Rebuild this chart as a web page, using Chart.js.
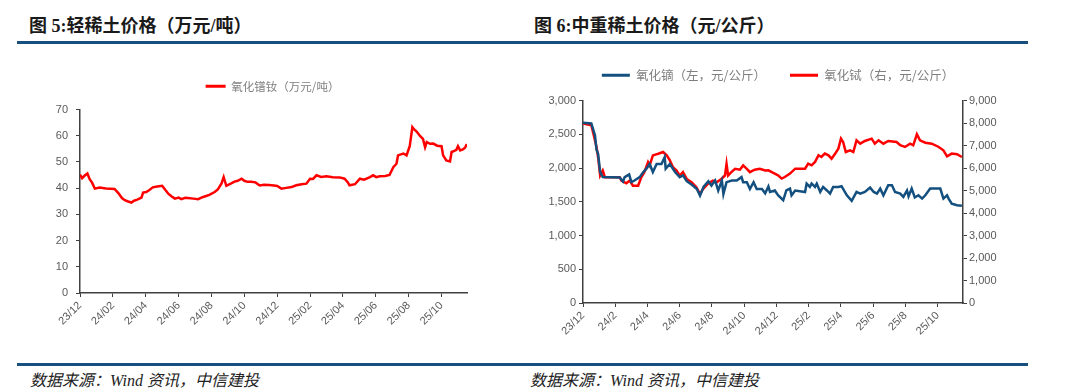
<!DOCTYPE html>
<html>
<head>
<meta charset="utf-8">
<script src="https://cdn.jsdelivr.net/npm/chart.js@4.4.1/dist/chart.umd.min.js"></script>
<style>
html,body{margin:0;padding:0;background:#fff;}
body{width:1080px;height:392px;overflow:hidden;position:relative;font-family:"Noto Sans CJK SC",sans-serif;}
.title{position:absolute;top:16px;font-weight:bold;font-size:18px;line-height:21px;color:#1a1a1a;white-space:nowrap;font-family:"Liberation Serif","Noto Sans CJK SC",serif;}
.rule{position:absolute;left:17px;width:1011px;height:3px;background:#17507e;}
.foot{position:absolute;top:371px;font-style:italic;font-size:16px;line-height:19px;color:#222;white-space:nowrap;font-family:"Liberation Serif","Noto Sans CJK SC",serif;}
.box{position:absolute;}
</style>
</head>
<body>
<div class="title" style="left:29px;">图 5:轻稀土价格（万元/吨）</div>
<div class="title" style="left:534px;">图 6:中重稀土价格（元/公斤）</div>
<div class="rule" style="top:41px;"></div>
<div class="rule" style="top:363px;"></div>
<div class="foot" style="left:30px;">数据来源：Wind 资讯，中信建投</div>
<div class="foot" style="left:530px;">数据来源：Wind 资讯，中信建投</div>

<div class="box" style="left:10px;top:55px;width:480px;height:300px;"><canvas id="c1" width="480" height="300"></canvas></div>
<div class="box" style="left:533px;top:55px;width:505px;height:300px;"><canvas id="c2" width="505" height="300"></canvas></div>

<script>
// ---------- Chart 5: light rare earth (万元/吨) ----------
const lightTickLabels = ['23/12','24/02','24/04','24/06','24/08','24/10','24/12','25/02','25/04','25/06','25/08','25/10'];
const lightDates = [
'2023-12-01','2023-12-05','2023-12-10','2023-12-15','2023-12-19','2023-12-24','2023-12-29',
'2024-01-07','2024-01-19','2024-02-04','2024-02-11','2024-02-17','2024-02-22','2024-02-28',
'2024-03-05','2024-03-10','2024-03-16','2024-03-24','2024-03-27','2024-04-02','2024-04-07',
'2024-04-14','2024-04-22','2024-05-01','2024-05-06','2024-05-13','2024-05-19','2024-05-25',
'2024-06-01','2024-06-06','2024-06-13','2024-06-18','2024-06-28','2024-07-07','2024-07-13',
'2024-07-22','2024-07-28','2024-08-07','2024-08-13','2024-08-20','2024-08-24','2024-08-29',
'2024-09-07','2024-09-13','2024-09-19','2024-09-26','2024-10-01','2024-10-07','2024-10-14',
'2024-10-22','2024-10-30','2024-11-07','2024-11-16','2024-11-25','2024-12-01','2024-12-09',
'2024-12-18','2024-12-28','2025-01-06','2025-01-16','2025-01-25','2025-02-01','2025-02-06',
'2025-02-12','2025-02-20','2025-03-01','2025-03-13','2025-03-26','2025-04-04','2025-04-10',
'2025-04-13','2025-04-23','2025-05-02','2025-05-10','2025-05-21','2025-05-27','2025-06-02',
'2025-06-08','2025-06-18','2025-06-26','2025-07-03','2025-07-09','2025-07-12','2025-07-16',
'2025-07-22','2025-07-28','2025-08-03','2025-08-08','2025-08-11','2025-08-16','2025-08-22',
'2025-08-28','2025-09-01','2025-09-04','2025-09-10','2025-09-16','2025-09-23','2025-10-01',
'2025-10-04','2025-10-10','2025-10-17','2025-10-20','2025-10-25','2025-10-29','2025-11-01',
'2025-11-05','2025-11-10','2025-11-14','2025-11-17'];
const prndValues = [
45.2,43.8,44.8,45.6,43.5,42.0,39.8,
40.2,39.9,39.7,38.0,36.2,35.4,34.9,
34.5,35.2,35.6,36.4,38.3,38.5,39.2,
40.3,40.6,40.9,39.6,37.8,36.8,36.0,
36.4,35.8,36.3,36.2,36.0,35.8,36.4,
37.0,37.4,38.5,39.5,41.8,44.2,40.9,
41.8,42.5,42.8,43.6,42.8,42.4,42.4,
42.2,41.0,41.3,41.2,41.0,40.8,39.8,
40.1,40.4,41.1,41.5,41.7,43.6,43.5,
44.9,44.3,44.5,44.2,44.1,43.6,42.2,
41.1,41.5,43.6,43.2,44.2,44.9,44.2,
44.5,44.6,45.0,48.0,49.3,52.5,52.8,
53.2,52.5,56.0,63.3,62.5,61.6,60.0,
58.8,55.6,57.6,56.9,57.0,56.2,56.0,
52.5,50.6,50.2,53.8,54.2,54.6,56.0,
54.4,54.8,55.4,56.8];

// ---------- Chart 6: medium/heavy rare earth (元/公斤) ----------
const heavyTickLabels = ['23/12','24/2','24/4','24/6','24/8','24/10','24/12','25/2','25/4','25/6','25/8','25/10'];
const dyDates = [
'2023-12-01','2023-12-17','2023-12-24','2023-12-27','2023-12-30','2024-01-03','2024-01-08',
'2024-02-09','2024-02-15','2024-02-18','2024-02-26','2024-03-01','2024-03-07','2024-03-17',
'2024-03-24','2024-03-30','2024-04-05','2024-04-11','2024-04-18','2024-04-27','2024-05-03',
'2024-05-05','2024-05-13','2024-05-23','2024-06-01','2024-06-07','2024-06-14','2024-06-23',
'2024-07-03','2024-07-09','2024-07-16','2024-07-25','2024-07-31','2024-08-07','2024-08-13',
'2024-08-20','2024-08-23','2024-08-29','2024-09-08','2024-09-17','2024-09-26','2024-09-29',
'2024-10-06','2024-10-12','2024-10-19','2024-10-25','2024-11-04','2024-11-10','2024-11-16',
'2024-11-19','2024-11-28','2024-12-04','2024-12-14','2024-12-20','2024-12-27','2024-12-30',
'2025-01-06','2025-01-25','2025-01-28','2025-02-03','2025-02-06','2025-02-12','2025-02-15',
'2025-02-21','2025-02-26','2025-03-05','2025-03-11','2025-03-17','2025-03-27','2025-04-02',
'2025-04-12','2025-04-21','2025-04-30','2025-05-07','2025-05-16','2025-05-26','2025-06-02',
'2025-06-08','2025-06-14','2025-06-20','2025-06-29','2025-07-06','2025-07-12','2025-07-22',
'2025-07-28','2025-08-04','2025-08-07','2025-08-13','2025-08-19','2025-08-26','2025-09-02',
'2025-09-08','2025-09-17','2025-10-06','2025-10-12','2025-10-19','2025-10-22','2025-10-28',
'2025-11-07','2025-11-16'];
const dyValues = [
2670,2660,2485,2270,2210,1940,1865,
1860,1800,1865,1905,1790,1815,1865,
1940,1990,2060,1940,2060,2060,2160,
1990,2060,1940,1865,1890,1805,1755,
1690,1590,1725,1805,1740,1815,1665,
1815,1615,1790,1815,1815,1865,1790,
1790,1690,1790,1690,1690,1625,1725,
1645,1667,1596,1522,1667,1695,1596,
1667,1645,1769,1720,1769,1720,1769,
1645,1720,1667,1621,1720,1720,1730,
1596,1513,1645,1621,1645,1710,1645,
1621,1695,1596,1744,1744,1645,1621,
1572,1667,1580,1695,1563,1596,1547,
1596,1695,1695,1547,1596,1547,1473,
1449,1440];
const tbDates = [
'2023-12-01','2023-12-17','2023-12-21','2023-12-27','2023-12-30','2024-01-03','2024-01-08',
'2024-01-12','2024-02-09','2024-02-12','2024-02-21','2024-02-27','2024-03-04','2024-03-14',
'2024-03-20','2024-03-26','2024-04-02','2024-04-05','2024-04-11','2024-04-21','2024-04-30',
'2024-05-07','2024-05-13','2024-05-19','2024-05-26','2024-06-01','2024-06-07','2024-06-14',
'2024-06-23','2024-07-02','2024-07-09','2024-07-15','2024-07-25','2024-08-03','2024-08-10',
'2024-08-19','2024-08-26','2024-08-29','2024-09-01','2024-09-07','2024-09-14','2024-09-23',
'2024-09-29','2024-10-06','2024-10-12','2024-10-21','2024-10-31','2024-11-10','2024-11-16',
'2024-11-25','2024-12-04','2024-12-11','2024-12-17','2024-12-27','2025-01-06','2025-01-25',
'2025-01-31','2025-02-06','2025-02-12','2025-02-18','2025-02-23','2025-03-01','2025-03-08',
'2025-03-14','2025-03-21','2025-03-27','2025-04-01','2025-04-05','2025-04-10','2025-04-18',
'2025-04-24','2025-04-30','2025-05-07','2025-05-16','2025-05-29','2025-06-04','2025-06-11',
'2025-06-20','2025-06-29','2025-07-15','2025-07-22','2025-07-31','2025-08-10','2025-08-16',
'2025-08-23','2025-08-29','2025-09-08','2025-09-20','2025-10-03','2025-10-12','2025-10-19',
'2025-10-28','2025-11-07','2025-11-16'];
const tbValues = [
7980,7900,7530,6930,6490,5665,5890,
5590,5590,5440,5320,5440,5215,5215,
5590,5815,6260,6115,6560,6635,6710,
6560,6335,6035,5890,5665,5815,5515,
5365,5140,4845,5070,5320,5440,5365,
5515,5665,6185,5665,5815,5965,5925,
6115,5965,5815,5925,5965,5890,5898,
5780,5676,5530,5600,5750,5970,5970,
6195,6120,6270,6565,6490,6640,6565,
6415,6640,6860,7305,7155,6710,6785,
6710,7230,7080,7200,7305,7080,7230,
7080,7200,7155,7010,6935,7080,7010,
7500,7230,7125,7080,6935,6785,6520,
6640,6610,6490];

// ---------- helpers ----------
function monthIndex(s){
  const [y,m,d] = s.split('-').map(Number);
  const dim = new Date(y, m, 0).getDate();
  return (y-2023)*12 + (m-12) + (d-1)/dim;
}
const toXY = (dates, vals) => dates.map((d,i)=>({x:monthIndex(d), y:vals[i]}));

const TICK_COLOR = '#595959';
const AXIS_COLOR = '#404040';
const tickFont = {family:'"Liberation Sans", Arial, sans-serif', size:11};

// enlarge legend box height and shift the drawn legend horizontally
function legendAdjust(extra, dx){
  return {
    id:'legendAdjust',
    beforeInit(chart){
      const lg = chart.legend;
      if(!lg) return;
      const origFit = lg.fit.bind(lg);
      lg.fit = function(){ origFit(); this.height += extra; };
      const origDraw = lg.draw.bind(lg);
      lg.draw = function(){ const ctx=this.ctx; ctx.save(); ctx.translate(dx,0); origDraw(); ctx.restore(); };
    }
  };
}
function legendLabels(chart){
  return Chart.defaults.plugins.legend.labels.generateLabels(chart).map(l=>Object.assign(l,{lineWidth:0}));
}
function xAxis(labels, max, height){
  return {
    type:'linear', min:0, max:max,
    afterBuildTicks: s => { s.ticks = labels.map((_,i)=>({value:i*2})); },
    afterFit: s => { s.height = height; },
    ticks:{autoSkip:false, maxRotation:45, minRotation:45, color:TICK_COLOR, font:tickFont, padding:2,
      callback:(v)=>labels[Math.round(v/2)]},
    grid:{drawOnChartArea:false, drawTicks:true, tickLength:4, color:AXIS_COLOR, lineWidth:1},
    border:{display:true, color:AXIS_COLOR, width:1.5}
  };
}

// ---------- Chart 5 ----------
new Chart(document.getElementById('c1'), {
  type:'line',
  data:{datasets:[{
    label:'氧化镨钕（万元/吨）',
    data:toXY(lightDates, prndValues),
    borderColor:'#ff0000', backgroundColor:'#ff0000',
    borderWidth:2.5, pointRadius:0, tension:0
  }]},
  options:{
    responsive:false, animation:false, devicePixelRatio:1,
    layout:{padding:{left:0, right:23, top:15.5, bottom:12}},
    plugins:{
      legend:{display:true, position:'top',
        labels:{boxWidth:20, boxHeight:3, padding:10, color:'#7f7f7f',
          font:{family:'"Noto Sans CJK SC", sans-serif', size:11.5}, generateLabels:legendLabels}},
      tooltip:{enabled:false}
    },
    scales:{
      x:xAxis(lightTickLabels, 23.55, 50),
      y:{min:0, max:70,
        afterFit: s => { s.width = 70; },
        ticks:{stepSize:10, color:TICK_COLOR, font:tickFont, padding:8},
        grid:{drawOnChartArea:false, drawTicks:true, tickLength:4, color:AXIS_COLOR},
        border:{display:true, color:AXIS_COLOR, width:1.5}}
    }
  },
  plugins:[legendAdjust(7.5, 34)]
});

// ---------- Chart 6 ----------
new Chart(document.getElementById('c2'), {
  type:'line',
  data:{datasets:[{
    label:'氧化镝（左，元/公斤）',
    data:toXY(dyDates, dyValues),
    borderColor:'#13507f', backgroundColor:'#13507f',
    borderWidth:2.5, pointRadius:0, tension:0, yAxisID:'y'
  },{
    label:'氧化铽（右，元/公斤）',
    data:toXY(tbDates, tbValues),
    borderColor:'#ff0000', backgroundColor:'#ff0000',
    borderWidth:2.5, pointRadius:0, tension:0, yAxisID:'y1'
  }]},
  options:{
    responsive:false, animation:false, devicePixelRatio:1,
    layout:{padding:{left:0, right:0, top:-10, bottom:7}},
    plugins:{
      legend:{display:true, position:'top',
        labels:{boxWidth:28, boxHeight:3, padding:24, color:'#7f7f7f',
          font:{family:'"Noto Sans CJK SC", sans-serif', size:12.5}, generateLabels:legendLabels}},
      tooltip:{enabled:false}
    },
    scales:{
      x:xAxis(heavyTickLabels, 23.57, 45),
      y:{position:'left', min:0, max:3000,
        afterFit: s => { s.width = 50; },
        ticks:{stepSize:500, color:TICK_COLOR, font:tickFont, padding:3},
        grid:{drawOnChartArea:false, drawTicks:true, tickLength:4, color:AXIS_COLOR},
        border:{display:true, color:AXIS_COLOR, width:1.5}},
      y1:{position:'right', min:0, max:9000,
        afterFit: s => { s.width = 75; },
        ticks:{stepSize:1000, color:TICK_COLOR, font:tickFont, padding:2},
        grid:{drawOnChartArea:false, drawTicks:true, tickLength:4, color:AXIS_COLOR},
        border:{display:true, color:AXIS_COLOR, width:1.5}}
    }
  },
  plugins:[legendAdjust(9, -7.5)]
});
</script>
</body>
</html>
